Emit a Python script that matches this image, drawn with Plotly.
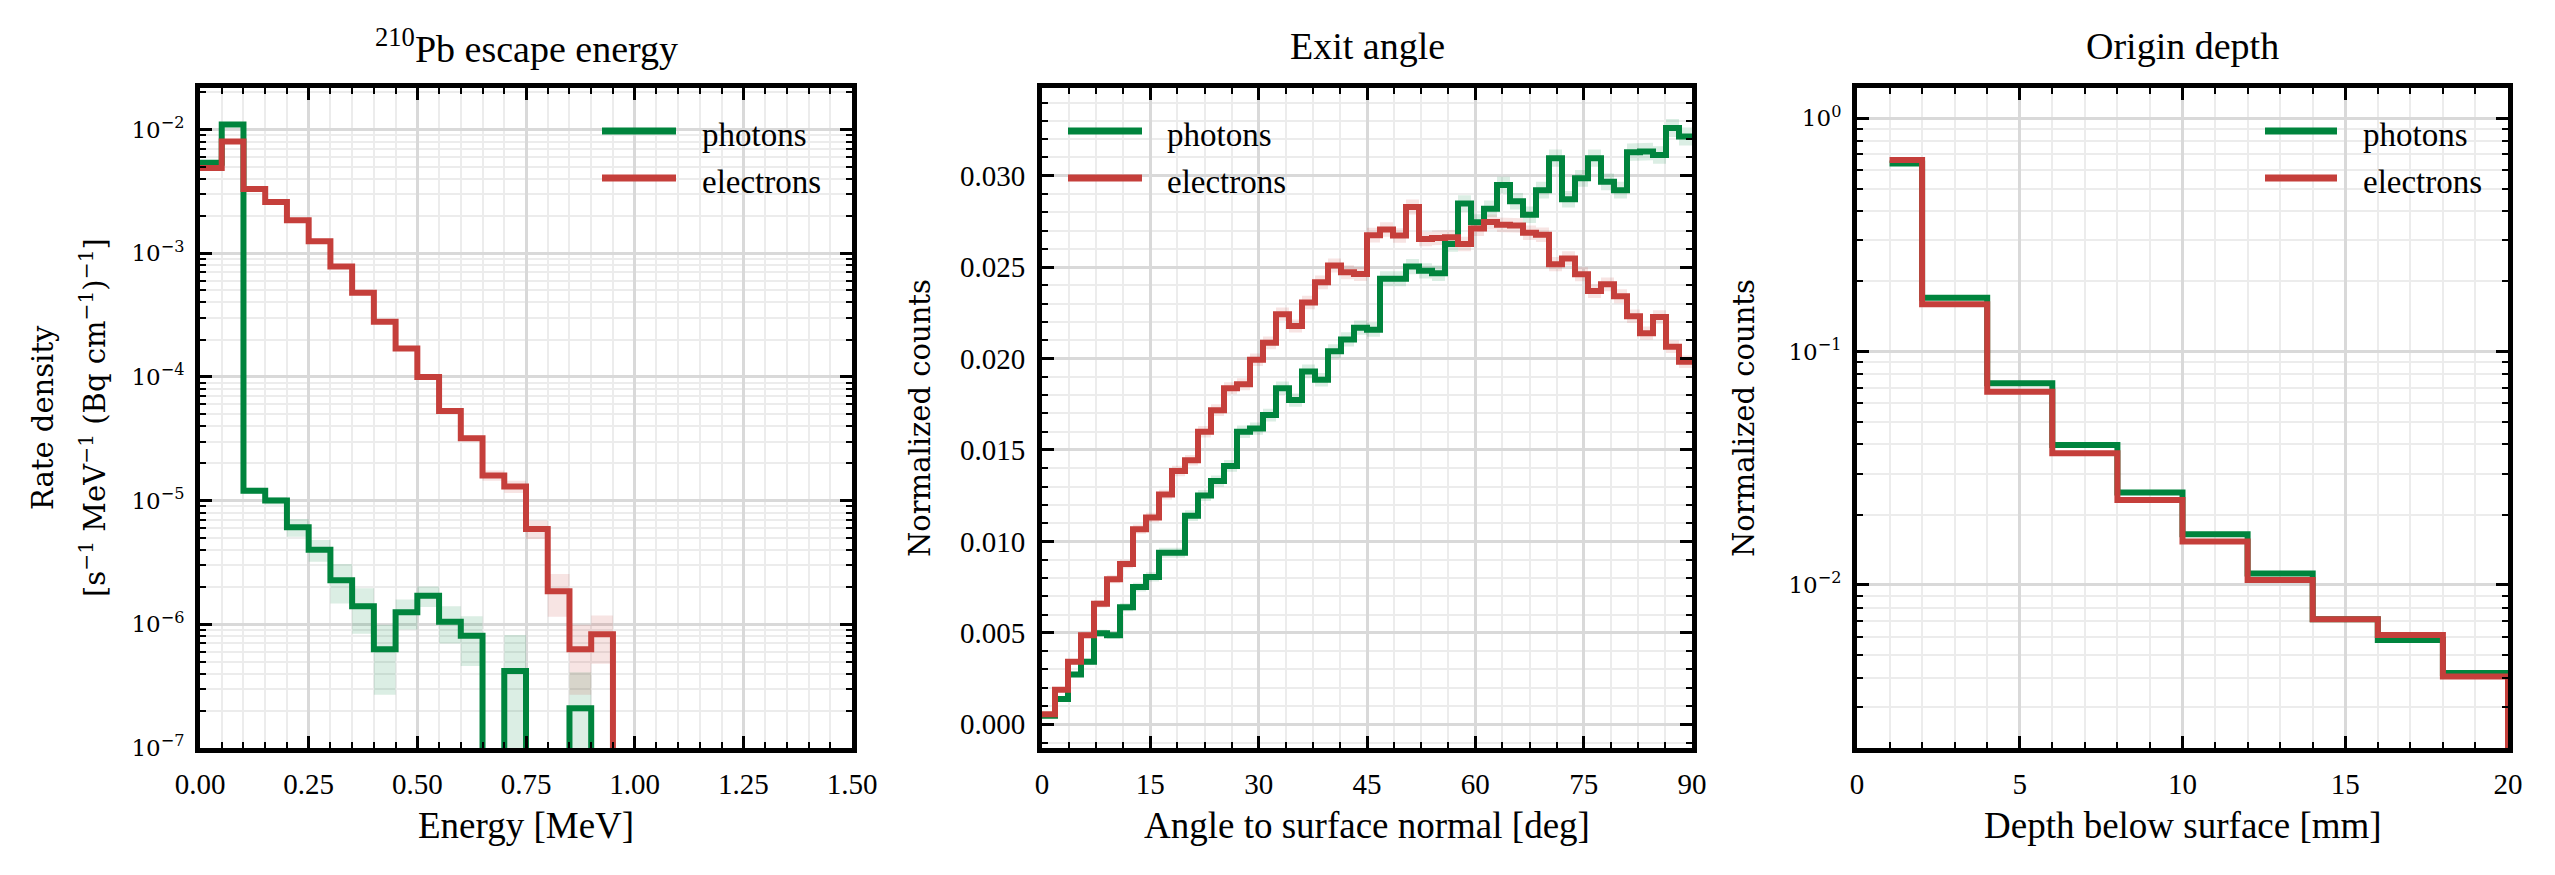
import plotly.graph_objects as go

W, H = 2555, 875

GREEN = "#00843D"
RED = "#C53F3B"
GREEN_BAND = "rgba(0,132,61,0.14)"
RED_BAND = "rgba(197,63,59,0.14)"

# ---------------- Panel 1: 210Pb escape energy ----------------
energy_edges = [0.00, 0.05, 0.10, 0.15, 0.20, 0.25, 0.30, 0.35, 0.40, 0.45, 0.50,
                0.55, 0.60, 0.65, 0.70, 0.75, 0.80, 0.85, 0.90, 0.95, 1.00,
                1.05, 1.10, 1.15, 1.20, 1.25, 1.30, 1.35, 1.40, 1.45, 1.50]
energy_photons = [5.4e-3, 1.1e-2, 1.2e-5, 1.0e-5, 6.1e-6, 4.0e-6, 2.27e-6, 1.4e-6, 6.3e-7, 1.25e-6,
                  1.7e-6, 1.05e-6, 8.1e-7, 0, 4.2e-7, 0, 0, 2.1e-7, 0, 0,
                  0, 0, 0, 0, 0, 0, 0, 0, 0, 0]
energy_photons_err = [5e-5, 1e-4, 7e-7, 7e-7, 1.0e-6, 8e-7, 8e-7, 5.6e-7, 3.6e-7, 3.4e-7,
                      3.2e-7, 3.5e-7, 3.5e-7, 0, 4.0e-7, 0, 0, 2.0e-7, 0, 0,
                      0, 0, 0, 0, 0, 0, 0, 0, 0, 0]
energy_electrons = [4.9e-3, 8.0e-3, 3.3e-3, 2.6e-3, 1.85e-3, 1.25e-3, 7.8e-4, 4.8e-4, 2.8e-4, 1.7e-4,
                    1.0e-4, 5.3e-5, 3.2e-5, 1.6e-5, 1.3e-5, 5.9e-6, 1.85e-6, 6.3e-7, 8.3e-7, 0,
                    0, 0, 0, 0, 0, 0, 0, 0, 0, 0]
energy_electrons_err = [2e-5, 3e-5, 1.5e-5, 1.2e-5, 1e-5, 8e-6, 6e-6, 5e-6, 3.5e-6, 2.6e-6,
                        2e-6, 1.5e-6, 1.4e-6, 1.5e-6, 1.5e-6, 1.0e-6, 7e-7, 3.6e-7, 3.5e-7, 0,
                        0, 0, 0, 0, 0, 0, 0, 0, 0, 0]

# ---------------- Panel 2: Exit angle ----------------
angle_edges = [0.0, 1.8, 3.6, 5.4, 7.2, 9.0, 10.8, 12.6, 14.4, 16.2, 18.0,
               19.8, 21.6, 23.4, 25.2, 27.0, 28.8, 30.6, 32.4, 34.2, 36.0,
               37.8, 39.6, 41.4, 43.2, 45.0, 46.8, 48.6, 50.4, 52.2, 54.0,
               55.8, 57.6, 59.4, 61.2, 63.0, 64.8, 66.6, 68.4, 70.2, 72.0,
               73.8, 75.6, 77.4, 79.2, 81.0, 82.8, 84.6, 86.4, 88.2, 90.0]
angle_photons = [0.00046, 0.00138, 0.00272, 0.00342, 0.00497, 0.00487, 0.00640, 0.00750, 0.00806, 0.00938,
                 0.00938, 0.01141, 0.01251, 0.01330, 0.01413, 0.01600, 0.01617, 0.01691, 0.01838, 0.01773,
                 0.01930, 0.01884, 0.02040, 0.02105, 0.02169, 0.02158, 0.02437, 0.02437, 0.02503, 0.02480,
                 0.02467, 0.02627, 0.02848, 0.02746, 0.02820, 0.02949, 0.02861, 0.02787, 0.02921, 0.03096,
                 0.02871, 0.02986, 0.03096, 0.02967, 0.02921, 0.03129, 0.03133, 0.03114, 0.03261, 0.03215]
angle_photons_err = [0.00008, 0.00012, 0.00015, 0.00017, 0.00020, 0.00020, 0.00022, 0.00024, 0.00025, 0.00027,
                     0.00027, 0.00029, 0.00030, 0.00031, 0.00032, 0.00034, 0.00034, 0.00035, 0.00036, 0.00036,
                     0.00037, 0.00037, 0.00038, 0.00039, 0.00039, 0.00039, 0.00041, 0.00041, 0.00042, 0.00042,
                     0.00042, 0.00043, 0.00045, 0.00044, 0.00045, 0.00046, 0.00045, 0.00045, 0.00046, 0.00047,
                     0.00045, 0.00046, 0.00047, 0.00046, 0.00046, 0.00048, 0.00048, 0.00048, 0.00049, 0.00049]
angle_electrons = [0.00055, 0.00189, 0.00342, 0.00487, 0.00659, 0.00793, 0.00876, 0.01067, 0.01131, 0.01256,
                   0.01385, 0.01444, 0.01600, 0.01718, 0.01838, 0.01860, 0.01994, 0.02086, 0.02243, 0.02178,
                   0.02307, 0.02417, 0.02509, 0.02472, 0.02463, 0.02675, 0.02706, 0.02673, 0.02829, 0.02654,
                   0.02660, 0.02664, 0.02627, 0.02711, 0.02747, 0.02732, 0.02728, 0.02688, 0.02677, 0.02516,
                   0.02548, 0.02461, 0.02369, 0.02406, 0.02341, 0.02231, 0.02139, 0.02227, 0.02065, 0.01983]
angle_electrons_err = [0.00006, 0.00011, 0.00015, 0.00017, 0.00020, 0.00022, 0.00023, 0.00025, 0.00026, 0.00027,
                       0.00029, 0.00029, 0.00031, 0.00032, 0.00033, 0.00033, 0.00034, 0.00035, 0.00036, 0.00036,
                       0.00037, 0.00038, 0.00038, 0.00038, 0.00038, 0.00040, 0.00040, 0.00040, 0.00041, 0.00040,
                       0.00040, 0.00040, 0.00040, 0.00040, 0.00041, 0.00040, 0.00040, 0.00040, 0.00040, 0.00039,
                       0.00039, 0.00038, 0.00038, 0.00038, 0.00038, 0.00037, 0.00036, 0.00037, 0.00035, 0.00034]

# ---------------- Panel 3: Origin depth ----------------
depth_edges = [1, 2, 4, 6, 8, 10, 12, 14, 16, 18, 20]
depth_photons = [0.641, 0.170, 0.0731, 0.0398, 0.0249, 0.0165, 0.0112, 0.00713, 0.0058, 0.00419]
depth_electrons = [0.663, 0.1595, 0.0673, 0.0367, 0.0231, 0.01534, 0.0105, 0.00713, 0.0061, 0.00405]

series_names = ["photons", "electrons"]

LOG_FLOOR = 1e-12


def step_xy(edges, vals, log=False, drop_end=False):
    xs = list(edges[:-1]) + [edges[-1]]
    ys = list(vals) + [vals[-1]]
    if drop_end:
        xs.append(edges[-1])
        ys.append(0)
    if log:
        ys = [v if v > 0 else LOG_FLOOR for v in ys]
    return xs, ys


def band_xy(edges, vals, errs, log=False):
    hi = [v + e for v, e in zip(vals, errs)]
    lo = [v - e for v, e in zip(vals, errs)]
    if log:
        hi = [v if v > 0 else LOG_FLOOR for v in hi]
        lo = [v if v > 0 else LOG_FLOOR for v in lo]
    xs, ys = [], []
    n = len(vals)
    for i in range(n):
        xs += [edges[i], edges[i + 1]]
        ys += [hi[i], hi[i]]
    for i in range(n - 1, -1, -1):
        xs += [edges[i + 1], edges[i]]
        ys += [lo[i], lo[i]]
    xs.append(xs[0])
    ys.append(ys[0])
    return xs, ys


fig = go.Figure()

# Panel 1 bands + lines
for vals, errs, col in [(energy_photons, energy_photons_err, GREEN_BAND),
                        (energy_electrons, energy_electrons_err, RED_BAND)]:
    bx, by = band_xy(energy_edges, vals, errs, log=True)
    fig.add_trace(go.Scatter(x=bx, y=by, fill="toself", fillcolor=col, mode="lines",
                             line=dict(width=0), hoverinfo="skip", showlegend=False,
                             xaxis="x", yaxis="y"))
for vals, col in [(energy_photons, GREEN), (energy_electrons, RED)]:
    sx, sy = step_xy(energy_edges, vals, log=True)
    fig.add_trace(go.Scatter(x=sx, y=sy, mode="lines", line=dict(color=col, width=6, shape="hv"),
                             showlegend=False, xaxis="x", yaxis="y"))

# Panel 2 bands + lines
for vals, errs, col in [(angle_photons, angle_photons_err, GREEN_BAND),
                        (angle_electrons, angle_electrons_err, RED_BAND)]:
    bx, by = band_xy(angle_edges, vals, errs)
    fig.add_trace(go.Scatter(x=bx, y=by, fill="toself", fillcolor=col, mode="lines",
                             line=dict(width=0), hoverinfo="skip", showlegend=False,
                             xaxis="x2", yaxis="y2"))
for vals, col in [(angle_photons, GREEN), (angle_electrons, RED)]:
    sx, sy = step_xy(angle_edges, vals)
    fig.add_trace(go.Scatter(x=sx, y=sy, mode="lines", line=dict(color=col, width=6, shape="hv"),
                             showlegend=False, xaxis="x2", yaxis="y2"))

# Panel 3 lines
for vals, col in [(depth_photons, GREEN), (depth_electrons, RED)]:
    sx, sy = step_xy(depth_edges, vals, log=True, drop_end=True)
    fig.add_trace(go.Scatter(x=sx, y=sy, mode="lines", line=dict(color=col, width=6, shape="hv"),
                             showlegend=False, xaxis="x3", yaxis="y3"))

TOP, BOT = 88, 748
ydom = [(H - BOT) / H, (H - TOP) / H]
panels_px = [(200, 852), (1042, 1692), (1857, 2508)]
xdoms = [[a / W, b / W] for a, b in panels_px]

TICKFONT = dict(family="Liberation Serif", size=29, color="black")
LOGFONT = dict(family="DejaVu Serif", size=23, color="black")
MAJOR_GRID = "#d9d9d9"
MINOR_GRID = "#ececec"


def lin_axis(domain, rng, dtick, minor_dtick, fmt, anchor, font=TICKFONT):
    return dict(domain=domain, range=rng, type="linear", anchor=anchor, automargin=False,
                showline=True, linewidth=5, linecolor="black", mirror="allticks",
                ticks="inside", ticklen=12, tickwidth=3, tickcolor="black",
                tick0=0, dtick=dtick, tickformat=fmt, tickfont=font,
                ticklabelstandoff=6,
                showgrid=True, gridcolor=MAJOR_GRID, gridwidth=2.5, zeroline=False,
                minor=dict(tick0=0, dtick=minor_dtick, ticks="inside", ticklen=6, tickwidth=2,
                           tickcolor="black", showgrid=True, gridcolor=MINOR_GRID, gridwidth=2))


def sup_label(k):
    s = str(k).replace("-", "\u2212")
    return "10<sup>%s</sup>" % s


def log_axis(domain, rng, decades, anchor):
    majors = [10.0 ** k for k in decades]
    minors = []
    for k in range(decades[0] - 1, decades[-1] + 1):
        for m in range(2, 10):
            minors.append(m * 10.0 ** k)
    return dict(domain=domain, range=rng, type="log", anchor=anchor, automargin=False,
                showline=True, linewidth=5, linecolor="black", mirror="allticks",
                ticks="inside", ticklen=12, tickwidth=3, tickcolor="black",
                tickmode="array", tickvals=majors, ticktext=[sup_label(k) for k in decades],
                tickfont=LOGFONT, ticklabelstandoff=6,
                showgrid=True, gridcolor=MAJOR_GRID, gridwidth=2.5, zeroline=False,
                minor=dict(tickmode="array", tickvals=minors, ticks="inside", ticklen=6, tickwidth=2,
                           tickcolor="black", showgrid=True, gridcolor=MINOR_GRID, gridwidth=2))


fig.update_layout(
    width=W, height=H, autosize=False, margin=dict(l=0, r=0, t=0, b=0, pad=0),
    paper_bgcolor="white", plot_bgcolor="white", showlegend=False,
    xaxis=lin_axis(xdoms[0], [0, 1.5], 0.25, 0.05, ".2f", "y"),
    yaxis=log_axis(ydom, [-7, -1.664], [-7, -6, -5, -4, -3, -2], "x"),
    xaxis2=lin_axis(xdoms[1], [0, 90], 15, 3.75, "d", "y2"),
    yaxis2=lin_axis(ydom, [-0.0013, 0.0348], 0.005, 0.001, ".3f", "x2"),
    xaxis3=lin_axis(xdoms[2], [0, 20], 5, 1, "d", "y3"),
    yaxis3=log_axis(ydom, [-2.699, 0.130], [-2, -1, 0], "x3"),
)

annotations = []


def ann(text, px, py, size, family="Liberation Serif", xanchor="center", yanchor="middle", angle=0):
    annotations.append(dict(text=text, x=px / W, y=(H - py) / H, xref="paper", yref="paper",
                            xanchor=xanchor, yanchor=yanchor, showarrow=False, textangle=angle,
                            font=dict(family=family, size=size, color="black")))


titles = ["<sup>210</sup>Pb escape energy", "Exit angle", "Origin depth"]
xtitles = ["Energy [MeV]", "Angle to surface normal [deg]", "Depth below surface [mm]"]
for (a, b), t, xt in zip(panels_px, titles, xtitles):
    ann(t, (a + b) / 2, 46, 38)
    ann(xt, (a + b) / 2, 825, 37)

mid_y = (TOP + BOT) / 2
ann("Rate density", 43, mid_y, 29, family="DejaVu Serif", angle=-90)
ann("[s<sup>\u22121</sup> MeV<sup>\u22121</sup> (Bq cm<sup>\u22121</sup>)<sup>\u22121</sup>]",
    93, mid_y, 29, family="DejaVu Serif", angle=-90)
ann("Normalized counts", 920, mid_y, 29, family="DejaVu Serif", angle=-90)
ann("Normalized counts", 1744, mid_y, 29, family="DejaVu Serif", angle=-90)

# manual legends
legend_pos = [(602, 676, 700), (1068, 1142, 1165), (2265, 2337, 2361)]
shapes = []
for x0, x1, xt in legend_pos:
    for name, col, yy in [(series_names[0], GREEN, 131), (series_names[1], RED, 178)]:
        shapes.append(dict(type="line", xref="paper", yref="paper",
                           x0=x0 / W, x1=x1 / W, y0=(H - yy) / H, y1=(H - yy) / H,
                           line=dict(color=col, width=7)))
        ann(name, xt, yy + 4, 33, xanchor="left")

fig.update_layout(annotations=annotations, shapes=shapes)

fig.write_html("out.html")
